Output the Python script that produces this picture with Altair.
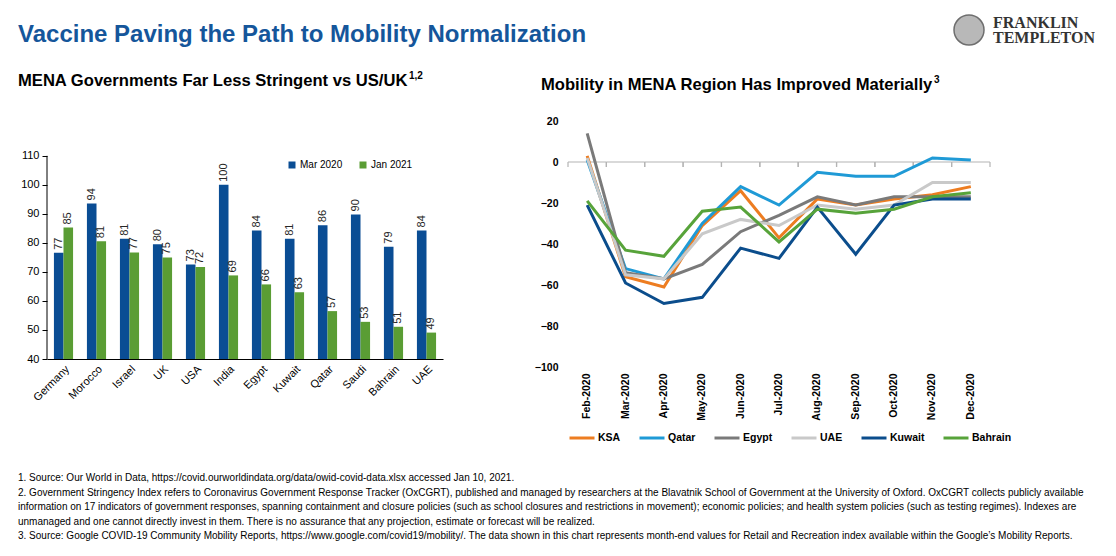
import altair as alt
import pandas as pd

# ---------------- data ----------------
countries = ["Germany", "Morocco", "Israel", "UK", "USA", "India", "Egypt",
             "Kuwait", "Qatar", "Saudi", "Bahrain", "UAE"]
mar_2020 = [76.6, 93.6, 81.4, 79.5, 72.6, 100.0, 84.3, 81.4, 86.1, 89.8, 78.7, 84.3]
jan_2021 = [85.3, 80.6, 76.7, 75.0, 71.7, 68.8, 65.7, 63.0, 56.5, 52.8, 51.1, 49.1]
bar_series = ["Mar 2020", "Jan 2021"]

months = ["Feb-2020", "Mar-2020", "Apr-2020", "May-2020", "Jun-2020", "Jul-2020",
          "Aug-2020", "Sep-2020", "Oct-2020", "Nov-2020", "Dec-2020"]
regions = ["KSA", "Qatar", "Egypt", "UAE", "Kuwait", "Bahrain"]
ksa = [3, -56, -61, -31, -14, -37, -18, -21, -18, -16, -12]
qatar = [1, -52, -57, -30, -12, -21, -5, -7, -7, 2, 1]
egypt = [14, -54, -57, -50, -34, -26, -17, -21, -17, -17, -17]
uae = [2, -55, -57, -35, -28, -31, -21, -23, -21, -10, -10]
kuwait = [-21, -59, -69, -66, -42, -47, -22, -45, -21, -18, -18]
bahrain = [-19, -43, -46, -24, -22, -39, -23, -25, -23, -17, -15]
y_ticks_line = [-100, -80, -60, -40, -20, 0, 20]
y_ticks_bar = [40, 50, 60, 70, 80, 90, 100, 110]

main_title = "Vaccine Paving the Path to Mobility Normalization"
bar_title = "MENA Governments Far Less Stringent vs US/UK"
bar_title_sup = "1,2"
line_title = "Mobility in MENA Region Has Improved Materially"
line_title_sup = "3"
logo_lines = ["FRANKLIN", "TEMPLETON"]
footnotes = [
    "1. Source: Our World in Data, https://covid.ourworldindata.org/data/owid-covid-data.xlsx accessed Jan 10, 2021.",
    "2. Government Stringency Index refers to Coronavirus Government Response Tracker (OxCGRT), published and managed by researchers at the Blavatnik School of Government at the University of Oxford. OxCGRT collects publicly available",
    "information on 17 indicators of government responses, spanning containment and closure policies (such as school closures and restrictions in movement); economic policies; and health system policies (such as testing regimes). Indexes are",
    "unmanaged and one cannot directly invest in them. There is no assurance that any projection, estimate or forecast will be realized.",
    "3. Source: Google COVID-19 Community Mobility Reports, https://www.google.com/covid19/mobility/. The data shown in this chart represents month-end values for Retail and Recreation index available within the Google\u2019s Mobility Reports.",
]

# ---------------- styles ----------------
F = "Liberation Sans"
FS = "Liberation Serif"
TITLE_BLUE = "#15569b"
BAR_COLORS = ["#0a4d94", "#5a9d34"]
LINE_COLORS = ["#ed7d21", "#1f9ad6", "#7a7a7a", "#c9c9c9", "#0b4d8c", "#57a33a"]
ZERO_GREY = "#b4b4b4"

# ---------------- tables ----------------
bar_rows = []
for c, a, b in zip(countries, mar_2020, jan_2021):
    bar_rows.append({"country": c, "series": bar_series[0], "value": a})
    bar_rows.append({"country": c, "series": bar_series[1], "value": b})
bar_df = pd.DataFrame(bar_rows)

series_vals = [ksa, qatar, egypt, uae, kuwait, bahrain]
line_rows = []
for r, vals in zip(regions, series_vals):
    for m, v in zip(months, vals):
        line_rows.append({"month": m, "region": r, "value": v})
line_df = pd.DataFrame(line_rows)
month_df = pd.DataFrame({"month": months})

one = pd.DataFrame({"k": [0]})


def label(text, x, y, size, weight="normal", color="#000000", font=F, align="left"):
    return alt.Chart(one).mark_text(text=text, align=align, baseline="alphabetic",
                                    font=font, fontSize=size, fontWeight=weight,
                                    color=color, lineHeight=14.6).encode(
        x=alt.value(x), y=alt.value(y))


# ---------------- bar chart (left panel, also carries header & notes) ----------------
bar_y_axis = alt.Axis(title=None, values=y_ticks_bar, grid=False, domain=False,
                      labelOverlap=False, labelFont=F, labelFontSize=11,
                      labelColor="#000000", tickColor="#000000", tickSize=5,
                      labelPadding=3)
bar_y_scale = alt.Scale(domain=[40, 122], nice=False, zero=False)
bx = alt.X("country:N", sort=countries,
           scale=alt.Scale(paddingInner=0.42, paddingOuter=0.21),
           axis=alt.Axis(title=None, labelAngle=-45, labelFont=F, labelFontSize=11,
                         labelColor="#000000", domainColor="#000000", ticks=False,
                         labelPadding=4))
bxo = alt.XOffset("series:N", sort=bar_series)
by = alt.Y("value:Q", scale=bar_y_scale, axis=bar_y_axis)
bars = alt.Chart(bar_df).mark_bar().encode(
    x=bx, xOffset=bxo, y=by, y2=alt.Y2Datum(40),
    color=alt.Color("series:N", sort=bar_series,
                    scale=alt.Scale(domain=bar_series, range=BAR_COLORS),
                    legend=alt.Legend(title=None, orient="none", legendX=240, legendY=39,
                                      direction="horizontal", symbolType="square",
                                      symbolSize=49, labelFont=F, labelFontSize=10,
                                      labelColor="#000000", columnPadding=15,
                                      labelOffset=3, padding=0)),
)
bar_labels = alt.Chart(bar_df).mark_text(angle=270, align="left", baseline="middle",
                                         dx=3, font=F, fontSize=11, color="#262626").encode(
    x=bx, xOffset=bxo, y=by, text=alt.Text("value:Q", format=".0f"))
y_axis_line = alt.Chart(one).mark_rule(color="#000000", strokeWidth=1).encode(
    x=alt.value(0),
    y=alt.YDatum(40, type="quantitative", scale=bar_y_scale, axis=bar_y_axis),
    y2=alt.Y2Datum(110))

top_anchor = alt.Chart(one).mark_point(filled=True, opacity=0, size=4).encode(
    x=alt.value(-28), y=alt.value(-112))
logo_circle = alt.Chart(one).mark_point(shape="circle", filled=True, size=900,
                                        fill="#b8b8b8", stroke="#6e6e6e",
                                        strokeWidth=1.5, opacity=1).encode(
    x=alt.value(922), y=alt.value(-91))

bar_chart = alt.layer(
    bars, bar_labels, y_axis_line, top_anchor,
    label(main_title, -29, -79, 24, "bold", TITLE_BLUE),
    logo_circle,
    label(logo_lines[0], 946, -93, 16, "bold", "#333333", FS),
    label(logo_lines[1], 946, -78, 16, "bold", "#333333", FS),
    label(bar_title, -29, -35, 16.6, "bold"),
    label(bar_title_sup, 362, -42, 10, "bold"),
    label(footnotes, -29, 360, 10),
).properties(width=396, height=238)

# ---------------- line chart ----------------
xscale = alt.Scale(type="band", paddingInner=0, paddingOuter=0)
line_x_axis = alt.Axis(title=None, orient="bottom", domain=False, ticks=False,
                       labelAngle=270, labelFont=F, labelFontSize=10.5,
                       labelFontWeight="bold", labelColor="#000000", labelPadding=6)
line_y_scale = alt.Scale(domain=[-100, 20], nice=False)
line_y_axis = alt.Axis(title=None, values=y_ticks_line, grid=False, domain=False,
                       labelOverlap=False, ticks=False, labelFont=F, labelFontSize=10.5,
                       labelFontWeight="bold", labelColor="#000000", labelPadding=10)


def lx(pos):
    return alt.X("month:N", sort=months, bandPosition=pos, scale=xscale, axis=line_x_axis)


def y_at(v):
    return alt.YDatum(v, type="quantitative", scale=line_y_scale, axis=line_y_axis)


ly = alt.Y("value:Q", scale=line_y_scale, axis=line_y_axis)

zero_line = alt.Chart(month_df).mark_rule(color=ZERO_GREY, strokeWidth=1.2).encode(
    x=lx(0), x2=alt.X2("month:N", bandPosition=1), y=y_at(0))
zero_ticks_left = alt.Chart(month_df).mark_rule(color=ZERO_GREY, strokeWidth=1.2).encode(
    x=lx(0), y=y_at(0), y2=alt.Y2Datum(-2.4))
zero_ticks_right = alt.Chart(month_df).mark_rule(color=ZERO_GREY, strokeWidth=1.2).encode(
    x=lx(1), y=y_at(0), y2=alt.Y2Datum(-2.4))
lines = alt.Chart(line_df).mark_line(strokeWidth=3).encode(
    x=lx(0.5),
    y=ly,
    color=alt.Color("region:N", sort=regions,
                    scale=alt.Scale(domain=regions, range=LINE_COLORS),
                    legend=alt.Legend(title=None, orient="bottom", direction="horizontal",
                                      symbolType="stroke", symbolStrokeWidth=3,
                                      symbolSize=625, labelFont=F, labelFontSize=10.5,
                                      labelFontWeight="bold", labelColor="#000000",
                                      labelOffset=2, columnPadding=12, offset=3,
                                      padding=0)),
)
line_chart = alt.layer(
    zero_line, zero_ticks_left, zero_ticks_right, lines,
    label(line_title, -27, -31, 16.6, "bold"),
    label(line_title_sup, 366, -38, 10, "bold"),
).properties(width=422, height=246)

chart = alt.hconcat(bar_chart, line_chart, spacing=125, bounds="flush").resolve_scale(
    color="independent").resolve_legend(color="independent").properties(
    padding={"left": 10, "top": 0, "right": 0, "bottom": 0},
    background="white",
).configure_view(stroke=None)

chart.save("out.html", embed_options={"renderer": "svg", "actions": False})
